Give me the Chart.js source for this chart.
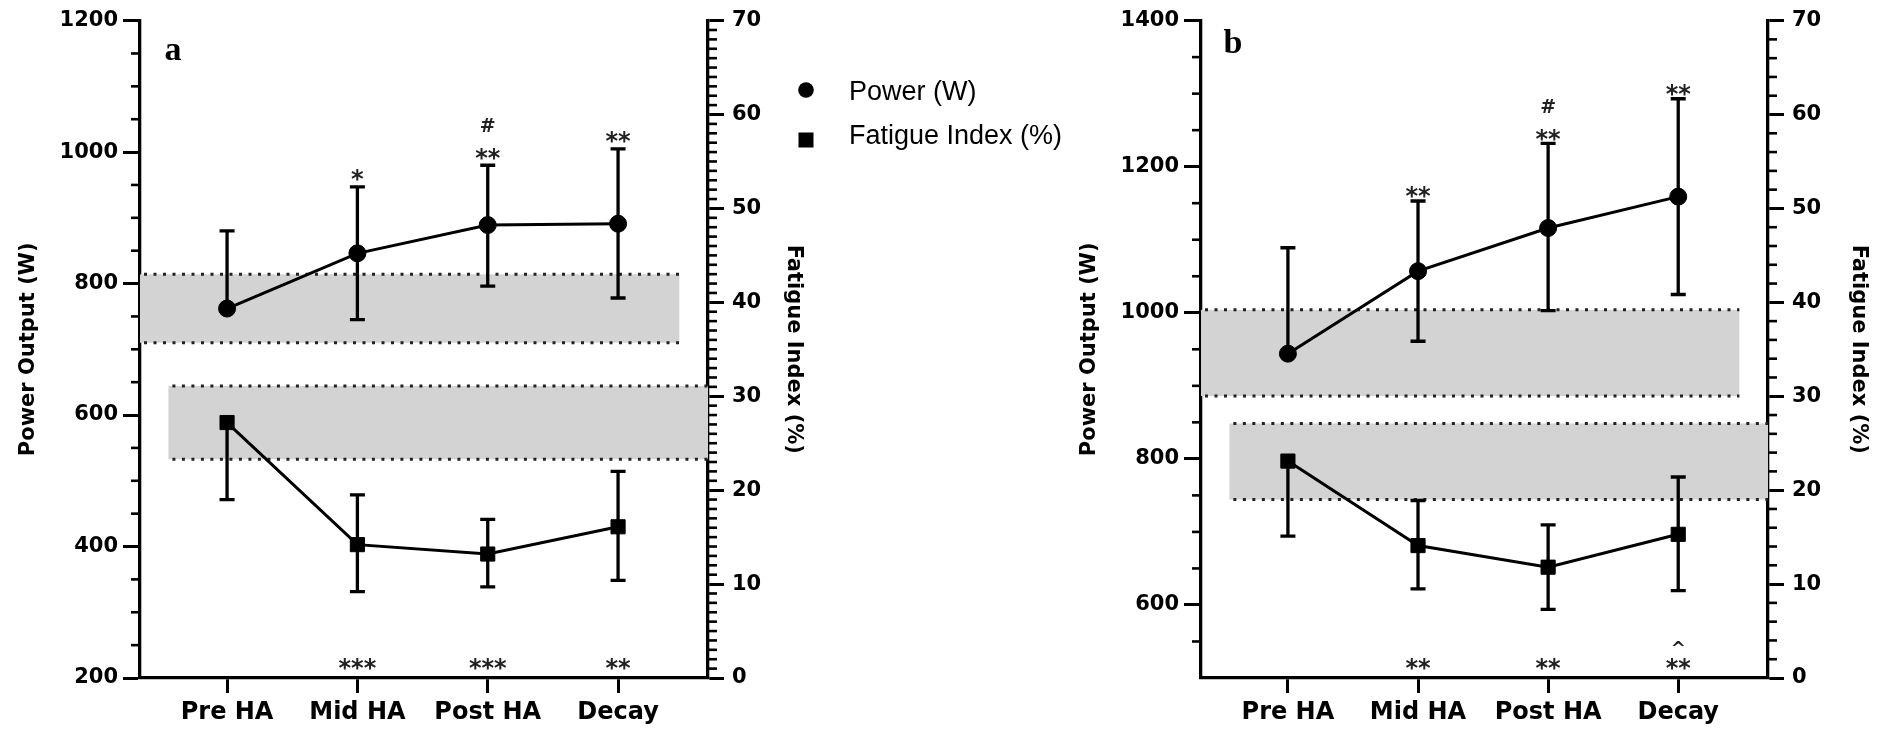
<!DOCTYPE html>
<html>
<head>
<meta charset="utf-8">
<script src="https://cdn.jsdelivr.net/npm/chart.js@4.4.0/dist/chart.umd.min.js"></script>
<style>
  html, body { margin: 0; padding: 0; background: #fff; }
  #wrap { position: relative; width: 1888px; height: 729px; }
  canvas { position: absolute; left: 0; top: 0; }
</style>
</head>
<body>
<div id="wrap">
  <canvas id="chartA" width="1888" height="729"></canvas>
  <canvas id="chartB" width="1888" height="729"></canvas>
</div>
<script>
const categories = ["Pre HA", "Mid HA", "Post HA", "Decay"];
const rightTicks = [0, 10, 20, 30, 40, 50, 60, 70];

// panel a
const leftTicksA = [200, 400, 600, 800, 1000, 1200];
const powerA = [762, 846, 889, 891];
const powerUpA = [118, 101, 91, 114];
const powerDownA = [null, 101, 93, 113];
const fatigueA = [27.2, 14.2, 13.2, 16.1];
const fatigueUpA = [null, 5.3, 3.7, 5.9];
const fatigueDownA = [8.2, 5.0, 3.5, 5.7];
const powerBandA = [710, 814];
const fatigueBandA = [23.3, 31.1];
const sigTopA = ["", "*", "**", "**"];
const hashTopA = ["", "", "#", ""];
const sigBottomA = ["", "***", "***", "**"];
const caretBottomA = ["", "", "", ""];

// panel b
const leftTicksB = [600, 800, 1000, 1200, 1400];
const powerB = [944, 1057, 1116, 1159];
const powerUpB = [145, 96, 116, 134];
const powerDownB = [null, 96, 113, 134];
const fatigueB = [23.1, 14.1, 11.8, 15.3];
const fatigueUpB = [null, 4.8, 4.5, 6.1];
const fatigueDownB = [8.0, 4.6, 4.5, 6.0];
const powerBandB = [886, 1004];
const fatigueBandB = [19.0, 27.1];
const sigTopB = ["", "**", "**", "**"];
const hashTopB = ["", "", "#", ""];
const sigBottomB = ["", "**", "**", "**"];
const caretBottomB = ["", "", "", "^"];

Chart.defaults.font.family = "'DejaVu Sans', sans-serif";
Chart.defaults.color = "#000";

// glyph centre as a fraction of font size above the baseline
function glyph(ctx, text, x, yc, size, ratio) {
  ctx.font = "bold " + size + "px 'DejaVu Sans'";
  ctx.textAlign = "center";
  ctx.textBaseline = "alphabetic";
  ctx.fillText(text, x, yc + ratio * size);
}

function makeDecor(p) {
  return {
    id: "decor",
    beforeDatasetsDraw(chart) {
      const { ctx, chartArea, scales } = chart;
      const xs = scales.x;
      // shaded reference bands with dotted edges
      p.bands.forEach(b => {
        const ys = scales[b.axis];
        const x0 = b.from === null ? chartArea.left : xs.getPixelForValue(b.from);
        const x1 = b.to === null ? chartArea.right : xs.getPixelForValue(b.to);
        const yt = ys.getPixelForValue(b.range[1]);
        const yb = ys.getPixelForValue(b.range[0]);
        ctx.save();
        ctx.fillStyle = "#d3d3d3";
        ctx.fillRect(x0, yt, x1 - x0, yb - yt);
        ctx.strokeStyle = "#222";
        ctx.lineWidth = 3;
        ctx.setLineDash([3, 6.5]);
        ctx.beginPath();
        ctx.moveTo(x0 + 4, yt); ctx.lineTo(x1, yt);
        ctx.moveTo(x0 + 4, yb); ctx.lineTo(x1, yb);
        ctx.stroke();
        ctx.restore();
      });
      // error bars
      ctx.save();
      ctx.strokeStyle = "#000";
      ctx.lineWidth = 3.3;
      chart.data.datasets.forEach(ds => {
        const ys = scales[ds.yAxisID];
        ds.data.forEach((pt, i) => {
          const px = xs.getPixelForValue(pt.x);
          const py = ys.getPixelForValue(pt.y);
          [[ds.errUp[i], 1], [ds.errDown[i], -1]].forEach(([e, s]) => {
            if (e == null) return;
            const pe = ys.getPixelForValue(pt.y + s * e);
            ctx.beginPath();
            ctx.moveTo(px, py); ctx.lineTo(px, pe);
            ctx.moveTo(px - 7.5, pe); ctx.lineTo(px + 7.5, pe);
            ctx.stroke();
          });
        });
      });
      ctx.restore();
    },
    afterDraw(chart) {
      const { ctx, chartArea, scales } = chart;
      const xs = scales.x;
      ctx.save();
      ctx.strokeStyle = "#000";
      ctx.lineWidth = 2.6;
      // minor ticks
      const yl = scales.y;
      for (let v = yl.min + p.minorLeft; v < yl.max; v += p.minorLeft) {
        if (p.leftTicks.includes(v)) continue;
        const py = yl.getPixelForValue(v);
        ctx.beginPath(); ctx.moveTo(chartArea.left, py); ctx.lineTo(chartArea.left - 9, py); ctx.stroke();
      }
      const yr = scales.y1;
      for (let v = p.minorRight; v < 70; v += p.minorRight) {
        if (v % 10 === 0) continue;
        const py = yr.getPixelForValue(v);
        ctx.beginPath(); ctx.moveTo(chartArea.right, py); ctx.lineTo(chartArea.right + 9, py); ctx.stroke();
      }
      // significance marks
      ctx.fillStyle = "#222";
      const ds = chart.data.datasets[0];
      categories.forEach((c, i) => {
        const px = xs.getPixelForValue(i);
        const capY = yl.getPixelForValue(ds.data[i].y + ds.errUp[i]);
        const starY = capY - p.starGap;
        if (p.sigTop[i]) glyph(ctx, p.sigTop[i], px, starY, 24, 0.6);
        if (p.hashTop[i]) glyph(ctx, p.hashTop[i], px, starY - 26, 19, 0.36);
        if (p.sigBottom[i]) glyph(ctx, p.sigBottom[i], px, chartArea.bottom - 16, 24, 0.6);
        if (p.caretBottom[i]) glyph(ctx, p.caretBottom[i], px, chartArea.bottom - 35, 18, 0.6);
      });
      // panel letter
      ctx.fillStyle = "#000";
      ctx.font = "bold 34px 'Liberation Serif'";
      ctx.textAlign = "center";
      ctx.textBaseline = "alphabetic";
      ctx.fillText(p.letter, p.letterX, p.letterY);
      // legend
      if (p.legend) {
        ctx.beginPath();
        ctx.arc(806, 90, 7.8, 0, Math.PI * 2);
        ctx.fill();
        ctx.fillRect(798.5, 132.5, 15, 15);
        ctx.font = "27px 'Liberation Sans'";
        ctx.textAlign = "left";
        ctx.textBaseline = "middle";
        ctx.fillText(chart.data.datasets[0].label, 849, 93);
        ctx.fillText(chart.data.datasets[1].label, 849, 137);
      }
      ctx.restore();
    }
  };
}

function axisGrid(len) {
  return { drawOnChartArea: false, drawTicks: true, tickLength: len, tickWidth: 3, tickColor: "#000", color: "#000" };
}
const axisBorder = { display: true, width: 3.3, color: "#000" };

function makeChart(id, p) {
  return new Chart(document.getElementById(id), {
    type: "line",
    data: {
      datasets: [
        {
          label: "Power (W)",
          data: categories.map((c, i) => ({ x: i, y: p.power[i] })),
          yAxisID: "y",
          errUp: p.powerUp, errDown: p.powerDown,
          borderColor: "#000", backgroundColor: "#000", borderWidth: 3,
          pointStyle: "circle", pointRadius: 8.5,
          pointBackgroundColor: "#000", pointBorderColor: "#000", pointBorderWidth: 1,
          tension: 0
        },
        {
          label: "Fatigue Index (%)",
          data: categories.map((c, i) => ({ x: i, y: p.fatigue[i] })),
          yAxisID: "y1",
          errUp: p.fatigueUp, errDown: p.fatigueDown,
          borderColor: "#000", backgroundColor: "#000", borderWidth: 3,
          pointStyle: "rect", pointRadius: 10,
          pointBackgroundColor: "#000", pointBorderColor: "#000", pointBorderWidth: 1,
          tension: 0
        }
      ]
    },
    options: {
      responsive: false,
      animation: false,
      events: [],
      layout: { padding: p.padding },
      plugins: { legend: { display: false }, tooltip: { enabled: false } },
      scales: {
        x: {
          type: "linear", min: -0.668, max: 3.69,
          afterBuildTicks: s => { s.ticks = categories.map((c, i) => ({ value: i })); },
          afterFit: s => { s.height = 51; },
          ticks: { callback: v => categories[v], font: { size: 24, weight: "bold" }, padding: 5, maxRotation: 0, autoSkip: false },
          grid: axisGrid(15),
          border: axisBorder
        },
        y: {
          position: "left", min: p.leftMin, max: p.leftMax,
          afterBuildTicks: s => { s.ticks = p.leftTicks.map(v => ({ value: v })); },
          afterFit: s => { s.width = 140; },
          ticks: { callback: v => String(v), font: { size: 21, weight: "bold" }, padding: 5 },
          title: { display: true, text: "Power Output (W)", font: { size: 21, weight: "bold" }, padding: { top: p.leftTitlePad, bottom: 0 } },
          grid: axisGrid(17),
          border: axisBorder
        },
        y1: {
          position: "right", min: 0, max: 70,
          afterBuildTicks: s => { s.ticks = rightTicks.map(v => ({ value: v })); },
          afterFit: s => { s.width = p.rightWidth; },
          ticks: { callback: v => String(v), font: { size: 21, weight: "bold" }, padding: 8 },
          title: { display: true, text: "Fatigue Index (%)", font: { size: 21, weight: "bold" }, padding: { top: p.rightTitlePad, bottom: 0 } },
          grid: axisGrid(16),
          border: axisBorder
        }
      }
    },
    plugins: [makeDecor(p)]
  });
}

makeChart("chartA", {
  power: powerA, powerUp: powerUpA, powerDown: powerDownA,
  fatigue: fatigueA, fatigueUp: fatigueUpA, fatigueDown: fatigueDownA,
  leftMin: 200, leftMax: 1200, leftTicks: leftTicksA,
  minorLeft: 50, minorRight: 1,
  bands: [
    { axis: "y", range: powerBandA, from: null, to: 3.47 },
    { axis: "y1", range: fatigueBandA, from: -0.45, to: null }
  ],
  sigTop: sigTopA, hashTop: hashTopA, sigBottom: sigBottomA, caretBottom: caretBottomA,
  starGap: 14,
  letter: "a", letterX: 173, letterY: 60,
  legend: true,
  padding: { left: 0, right: 1080, top: 19, bottom: 0 },
  rightWidth: 100, leftTitlePad: 16, rightTitlePad: 2
});

makeChart("chartB", {
  power: powerB, powerUp: powerUpB, powerDown: powerDownB,
  fatigue: fatigueB, fatigueUp: fatigueUpB, fatigueDown: fatigueDownB,
  leftMin: 500, leftMax: 1400, leftTicks: leftTicksB,
  minorLeft: 50, minorRight: 2,
  bands: [
    { axis: "y", range: powerBandB, from: null, to: 3.47 },
    { axis: "y1", range: fatigueBandB, from: -0.45, to: null }
  ],
  sigTop: sigTopB, hashTop: hashTopB, sigBottom: sigBottomB, caretBottom: caretBottomB,
  starGap: 11,
  letter: "b", letterX: 1233, letterY: 53,
  legend: false,
  padding: { left: 1061, right: 10, top: 19, bottom: 0 },
  rightWidth: 110, leftTitlePad: 16, rightTitlePad: 7
});
</script>
</body>
</html>
